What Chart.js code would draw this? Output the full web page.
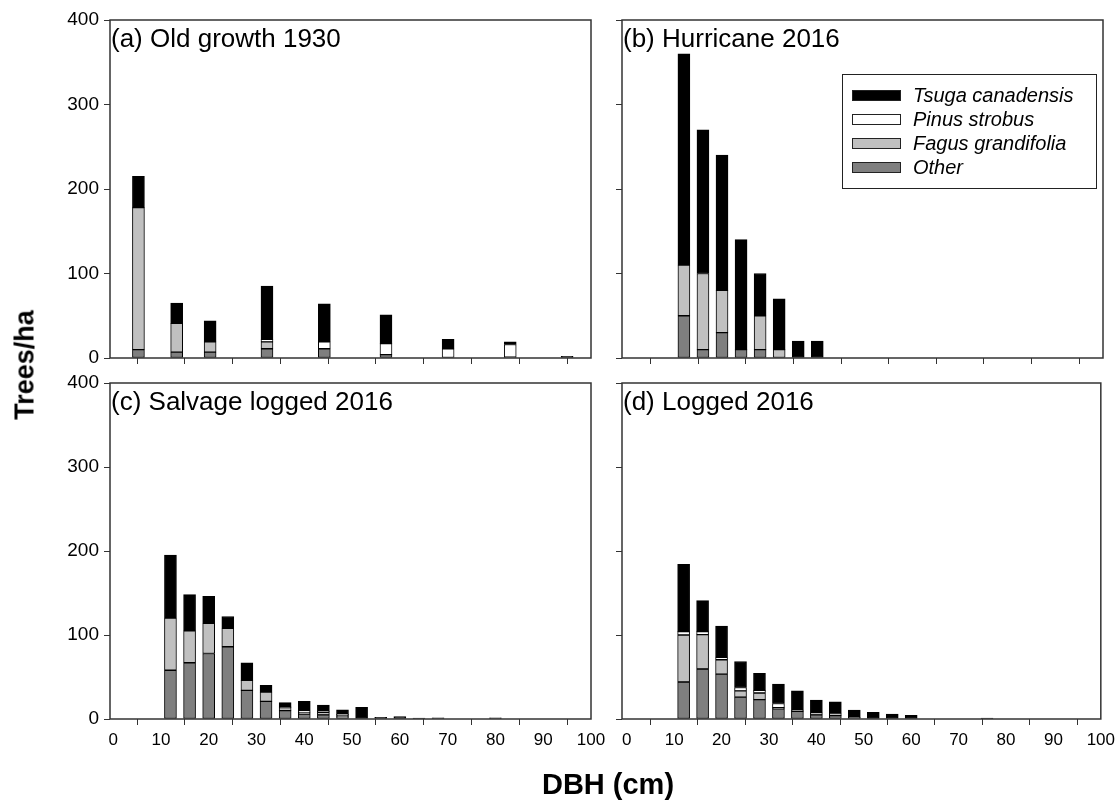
<!DOCTYPE html>
<html>
<head>
<meta charset="utf-8">
<script src="https://cdn.jsdelivr.net/npm/chart.js@4"></script>
<style>
  body { margin: 0; background: #fff; width: 1120px; height: 806px; position: relative; overflow: hidden;
         font-family: "Liberation Sans", Arial, sans-serif; }
  canvas { position: absolute; left: 0; top: 0; }
  .ytitle { position: absolute; left: 25px; top: 365px; transform: translate(-50%, -50%) rotate(-90deg);
            font-weight: bold; font-size: 27px; white-space: nowrap; }
  .xtitle { position: absolute; left: 608px; top: 784px; transform: translate(-50%, -50%);
            font-weight: bold; font-size: 29px; white-space: nowrap; }
</style>
</head>
<body>
<canvas id="panelA" width="1120" height="806"></canvas>
<canvas id="panelB" width="1120" height="806"></canvas>
<canvas id="panelC" width="1120" height="806"></canvas>
<canvas id="panelD" width="1120" height="806"></canvas>
<div class="ytitle">Trees/ha</div>
<div class="xtitle">DBH (cm)</div>

<script>
// tick labels
const xTicks = [0, 10, 20, 30, 40, 50, 60, 70, 80, 90, 100];
const yTicks = [0, 100, 200, 300, 400];

const speciesNames = ['Other', 'Fagus grandifolia', 'Pinus strobus', 'Tsuga canadensis'];

// (a) Old growth 1930 - wider diameter classes
const dbhA   = [5.3, 13.3, 20.3, 32.2, 44.2, 57.1, 70.1, 83.1, 95];
const otherA = [10, 7, 7, 11, 11, 4, 0, 1, 0];
const fagusA = [168, 34, 12, 8, 0, 0, 0, 0, 0];
const pinusA = [0, 0, 0, 3, 8, 13, 11, 15, 0];
const tsugaA = [37, 24, 25, 63, 45, 34, 11, 3, 2];

// (b) Hurricane 2016
const dbhB   = [12, 16, 20, 24, 28, 32, 36, 40];
const otherB = [50, 10, 30, 10, 10, 0, 0, 0];
const fagusB = [60, 90, 50, 0, 40, 10, 0, 0];
const pinusB = [0, 0, 0, 0, 0, 0, 0, 0];
const tsugaB = [250, 170, 160, 130, 50, 60, 20, 20];

// (c) Salvage logged 2016
const dbhC   = [12, 16, 20, 24, 28, 32, 36, 40, 44, 48, 52, 56, 60, 64, 68, 80];
const otherC = [58, 67, 78, 86, 34, 21, 10, 6, 5, 2.5, 0, 0, 0, 0, 0, 0];
const fagusC = [62, 38, 36, 22, 12, 11, 3.5, 2, 3, 2, 0, 0, 0, 0, 0, 0];
const pinusC = [0, 0, 0, 0, 0, 0, 1, 1.5, 1, 1, 0, 0, 0, 0, 0, 0];
const tsugaC = [75, 43, 32, 14, 21, 8, 5, 11.5, 7.5, 5.5, 14, 2, 3, 1, 1.5, 1.5];

// (d) Logged 2016
const dbhD   = [12, 16, 20, 24, 28, 32, 36, 40, 44, 48, 52, 56, 60, 76];
const otherD = [44, 59.5, 53.5, 26, 23, 12, 9, 5, 4, 2, 0, 0, 0, 0];
const fagusD = [56, 41, 17, 7.5, 8, 1.5, 1.5, 3, 3, 0, 0, 0, 0, 0];
const pinusD = [4, 3.5, 3, 4, 3, 5, 0, 0, 0, 0, 0, 0, 0, 0];
const tsugaD = [80, 37, 37, 31, 20.5, 23, 23, 14.5, 13.5, 8.5, 8, 6, 4.5, 1];

const fills = ['#7f7f7f', '#c0c0c0', '#ffffff', '#000000'];
const FONT = '"Liberation Sans", Arial, sans-serif';
const Y_AXIS_W = 45;
const X_AXIS_H = 30;

// frame round the plot + panel title
const framePlugin = {
  id: 'frame',
  afterDraw(chart, args, opts) {
    const { ctx, chartArea: a } = chart;
    ctx.save();
    ctx.strokeStyle = '#333';
    ctx.lineWidth = 1.5;
    ctx.strokeRect(a.left, a.top, a.right - a.left, a.bottom - a.top);
    ctx.fillStyle = '#000';
    ctx.font = '26px ' + FONT;
    ctx.textBaseline = 'alphabetic';
    ctx.fillText(opts.text, a.left + 1, a.top + 27);
    ctx.restore();
  }
};

// legend box inside panel (b)
const legendPlugin = {
  id: 'speciesLegend',
  afterDraw(chart) {
    const { ctx, chartArea: a } = chart;
    const x0 = a.left + 220, y0 = a.top + 54;
    ctx.save();
    ctx.strokeStyle = '#222';
    ctx.lineWidth = 1;
    ctx.strokeRect(x0 + 0.5, y0 + 0.5, 254, 114);
    const items = chart.data.datasets.slice().reverse();
    items.forEach((d, i) => {
      const sy = y0 + 16 + i * 24;
      ctx.fillStyle = d.backgroundColor;
      ctx.fillRect(x0 + 10, sy, 49, 11);
      ctx.strokeRect(x0 + 10.5, sy + 0.5, 48, 10);
      ctx.fillStyle = '#000';
      ctx.font = 'italic 20px ' + FONT;
      ctx.textBaseline = 'middle';
      ctx.fillText(d.label, x0 + 71, sy + 6);
    });
    ctx.restore();
  }
};

function toPoints(xs, ys) {
  return xs.map((x, i) => ({ x: x, y: ys[i] })).filter(p => p.y > 0);
}

function makePanel(id, title, dbh, series, area, showX, showY, extra) {
  new Chart(document.getElementById(id), {
    type: 'bar',
    data: {
      datasets: series.map((s, i) => ({
        label: speciesNames[i],
        data: toPoints(dbh, s),
        backgroundColor: fills[i],
        borderColor: '#000',
        borderWidth: 1,
        borderSkipped: false,
        barThickness: 12
      }))
    },
    options: {
      responsive: false,
      animation: false,
      layout: {
        padding: { left: area.left - Y_AXIS_W, top: area.top, right: 1120 - area.right, bottom: 806 - area.bottom - X_AXIS_H }
      },
      plugins: {
        legend: { display: false },
        tooltip: { enabled: false },
        frame: { text: title }
      },
      scales: {
        x: {
          type: 'linear', stacked: true, offset: false,
          min: area.xMin, max: 100,
          afterBuildTicks: s => { s.ticks = xTicks.map(v => ({ value: v })); },
          afterFit: s => { s.height = X_AXIS_H; },
          border: { display: false },
          grid: { display: true, drawOnChartArea: false, drawTicks: true, tickLength: 6, color: '#333', lineWidth: 1 },
          ticks: { display: showX, padding: 5, color: '#000', font: { family: FONT, size: 17 }, maxRotation: 0, autoSkip: false }
        },
        y: {
          stacked: true, min: 0, max: 400,
          afterBuildTicks: s => { s.ticks = yTicks.map(v => ({ value: v })); },
          afterFit: s => { s.width = Y_AXIS_W; },
          border: { display: false },
          grid: { display: true, drawOnChartArea: false, drawTicks: true, tickLength: 6, color: '#333', lineWidth: 1 },
          ticks: { display: showY, padding: 5, color: '#000', font: { family: FONT, size: 19 } }
        }
      }
    },
    plugins: [framePlugin].concat(extra || [])
  });
}

makePanel('panelA', '(a) Old growth 1930', dbhA, [otherA, fagusA, pinusA, tsugaA],
  { left: 110, top: 20, right: 591, bottom: 358, xMin: -0.65 }, false, true);
makePanel('panelB', '(b) Hurricane 2016', dbhB, [otherB, fagusB, pinusB, tsugaB],
  { left: 622, top: 20, right: 1103, bottom: 358, xMin: -1 }, false, false, [legendPlugin]);
makePanel('panelC', '(c) Salvage logged 2016', dbhC, [otherC, fagusC, pinusC, tsugaC],
  { left: 110, top: 383, right: 591, bottom: 719, xMin: -0.65 }, true, true);
makePanel('panelD', '(d) Logged 2016', dbhD, [otherD, fagusD, pinusD, tsugaD],
  { left: 622, top: 383, right: 1103, bottom: 719, xMin: -1 }, true, false);
</script>
</body>
</html>
